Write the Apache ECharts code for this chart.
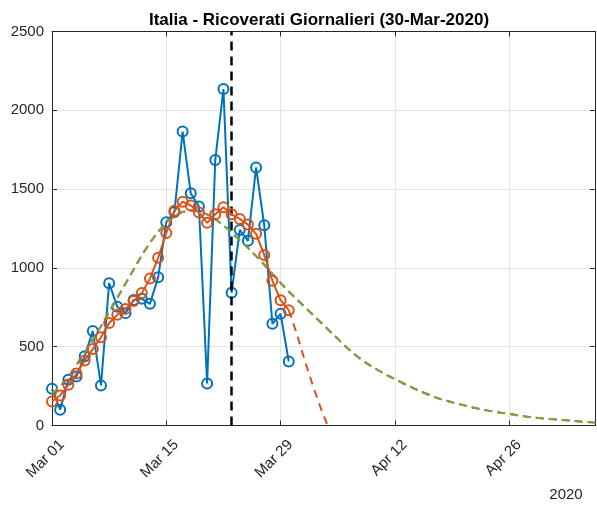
<!DOCTYPE html>
<html><head><meta charset="utf-8">
<script src="https://cdn.jsdelivr.net/npm/echarts@6/dist/echarts.min.js"></script>
<style>html,body{margin:0;padding:0;background:#fff}#c{width:597px;height:505px}</style>
</head><body><div id="c"></div>
<script>
// x values are days since Mar 01 2020
const titleText = 'Italia - Ricoverati Giornalieri (30-Mar-2020)';
const yearLabel = '2020';
const xTickLabels = ['Mar 01', 'Mar 15', 'Mar 29', 'Apr 12', 'Apr 26'];
const xTickStep = 14;
const xMaxDay = 66.5;
const yTicks = [0, 500, 1000, 1500, 2000, 2500];
const markerDay = 22;

// daily new hospitalised (blue), days 0..29
const daily = [233, 100, 290, 311, 440, 600, 254, 903, 753, 713, 797, 805, 772, 940, 1290,
  1355, 1865, 1473, 1390, 266, 1685, 2135, 842, 1241, 1172, 1637, 1270, 645, 709, 406];
// smoothed (orange), days 0..29
const smoothed = [152, 190, 258, 330, 412, 485, 560, 650, 702, 740, 790, 840, 932, 1064, 1222,
  1362, 1420, 1396, 1352, 1286, 1340, 1385, 1340, 1311, 1275, 1216, 1082, 918, 795, 732];
// smoothed projection (orange dashed), days 29..34
const projStart = 29;
const projection = [732, 580, 406, 247, 99, -30];
// fitted curve (green / purple dashed), days 0..67
const fit = [200, 250, 305, 385, 460, 545, 630, 720, 810, 900, 990, 1080, 1160, 1230, 1290,
  1330, 1355, 1365, 1360, 1340, 1310, 1270, 1225, 1175, 1128, 1075, 1020, 962, 905, 850,
  800, 750, 700, 650, 600, 550, 500, 454, 414, 380, 349, 320, 294, 268, 243, 220, 198,
  178, 161, 147, 134, 121, 109, 98, 89, 81, 74, 65, 57, 51, 46, 41, 37, 33, 29, 24, 20, 17];

const FONT = '"Liberation Sans", Arial, Helvetica, sans-serif';
const AX = '#262626';
const GRID = '#e3e3e3';
const BLUE = '#0072BD', ORANGE = '#D95319', GREEN = '#77AC30', PURPLE = '#7E2F8E';

const pairs = (arr, start) => arr.map((v, i) => [start + i, v]);

const chart = echarts.init(document.getElementById('c'), null, {renderer: 'canvas'});

const xBase = {
  type: 'value', min: 0, max: xMaxDay, interval: xTickStep,
  axisLine: {show: true, onZero: false, lineStyle: {color: AX, width: 1}},
  axisTick: {show: true, inside: true, length: 5, lineStyle: {color: AX}},
};
const yBase = {
  type: 'value', min: yTicks[0], max: yTicks[yTicks.length - 1], interval: yTicks[1] - yTicks[0],
  axisLine: {show: true, onZero: false, lineStyle: {color: AX, width: 1}},
  axisTick: {show: true, inside: true, length: 5, lineStyle: {color: AX}},
};

chart.setOption({
  animation: false,
  backgroundColor: '#fff',
  textStyle: {fontFamily: FONT},
  grid: {left: 52, right: 1, top: 31.5, bottom: 79.5, containLabel: false},
  xAxis: [
    Object.assign({}, xBase, {
      position: 'bottom',
      axisLabel: {
        rotate: 45, fontSize: 15, color: AX, fontFamily: FONT, margin: 7,
        align: 'right', verticalAlign: 'top', lineHeight: 28,
        formatter: v => (Math.abs(v % xTickStep) < 1e-9 ? (xTickLabels[Math.round(v / xTickStep)] || '') : '')
      },
      splitLine: {show: true, lineStyle: {color: GRID, width: 1}}
    }),
    Object.assign({}, xBase, {position: 'top', axisLabel: {show: false}, splitLine: {show: false}})
  ],
  yAxis: [
    Object.assign({}, yBase, {
      position: 'left',
      axisLabel: {fontSize: 15, color: AX, fontFamily: FONT, margin: 8, formatter: v => String(v)},
      splitLine: {show: true, lineStyle: {color: GRID, width: 1}}
    }),
    Object.assign({}, yBase, {position: 'right', axisLabel: {show: false}, splitLine: {show: false}})
  ],
  graphic: [
    {type: 'text', x: 319, y: 20, style: {text: titleText, font: 'bold 17px ' + FONT, fill: '#000', align: 'center', verticalAlign: 'middle'}},
    {type: 'text', x: 566, y: 495, style: {text: yearLabel, font: '15px ' + FONT, fill: AX, align: 'center', verticalAlign: 'middle'}}
  ],
  series: [
    {
      type: 'line', data: pairs(daily, 0), xAxisIndex: 0, yAxisIndex: 0,
      symbol: 'circle', symbolSize: 10, showAllSymbol: true,
      lineStyle: {color: BLUE, width: 2},
      itemStyle: {color: 'rgba(0,0,0,0)', borderColor: BLUE, borderWidth: 2},
      z: 2,
      markLine: {
        silent: true, symbol: 'none', animation: false,
        label: {show: false},
        lineStyle: {color: '#000', type: [9, 6], width: 2.5},
        data: [{xAxis: markerDay}]
      }
    },
    {
      type: 'line', data: pairs(fit, 0), showSymbol: false, symbol: 'none',
      lineStyle: {color: PURPLE, width: 2, type: [8, 5]}, z: 3
    },
    {
      type: 'line', data: pairs(fit, 0), showSymbol: false, symbol: 'none',
      lineStyle: {color: GREEN, width: 2, type: [8, 5]}, z: 4
    },
    {
      type: 'line', data: pairs(projection, projStart), showSymbol: false, symbol: 'none',
      lineStyle: {color: ORANGE, width: 2, type: [8, 6]}, z: 5, clip: true
    },
    {
      type: 'line', data: pairs(smoothed, 0),
      symbol: 'circle', symbolSize: 10, showAllSymbol: true,
      lineStyle: {color: ORANGE, width: 2},
      itemStyle: {color: 'rgba(0,0,0,0)', borderColor: ORANGE, borderWidth: 2},
      z: 6
    }
  ]
});
</script></body></html>
